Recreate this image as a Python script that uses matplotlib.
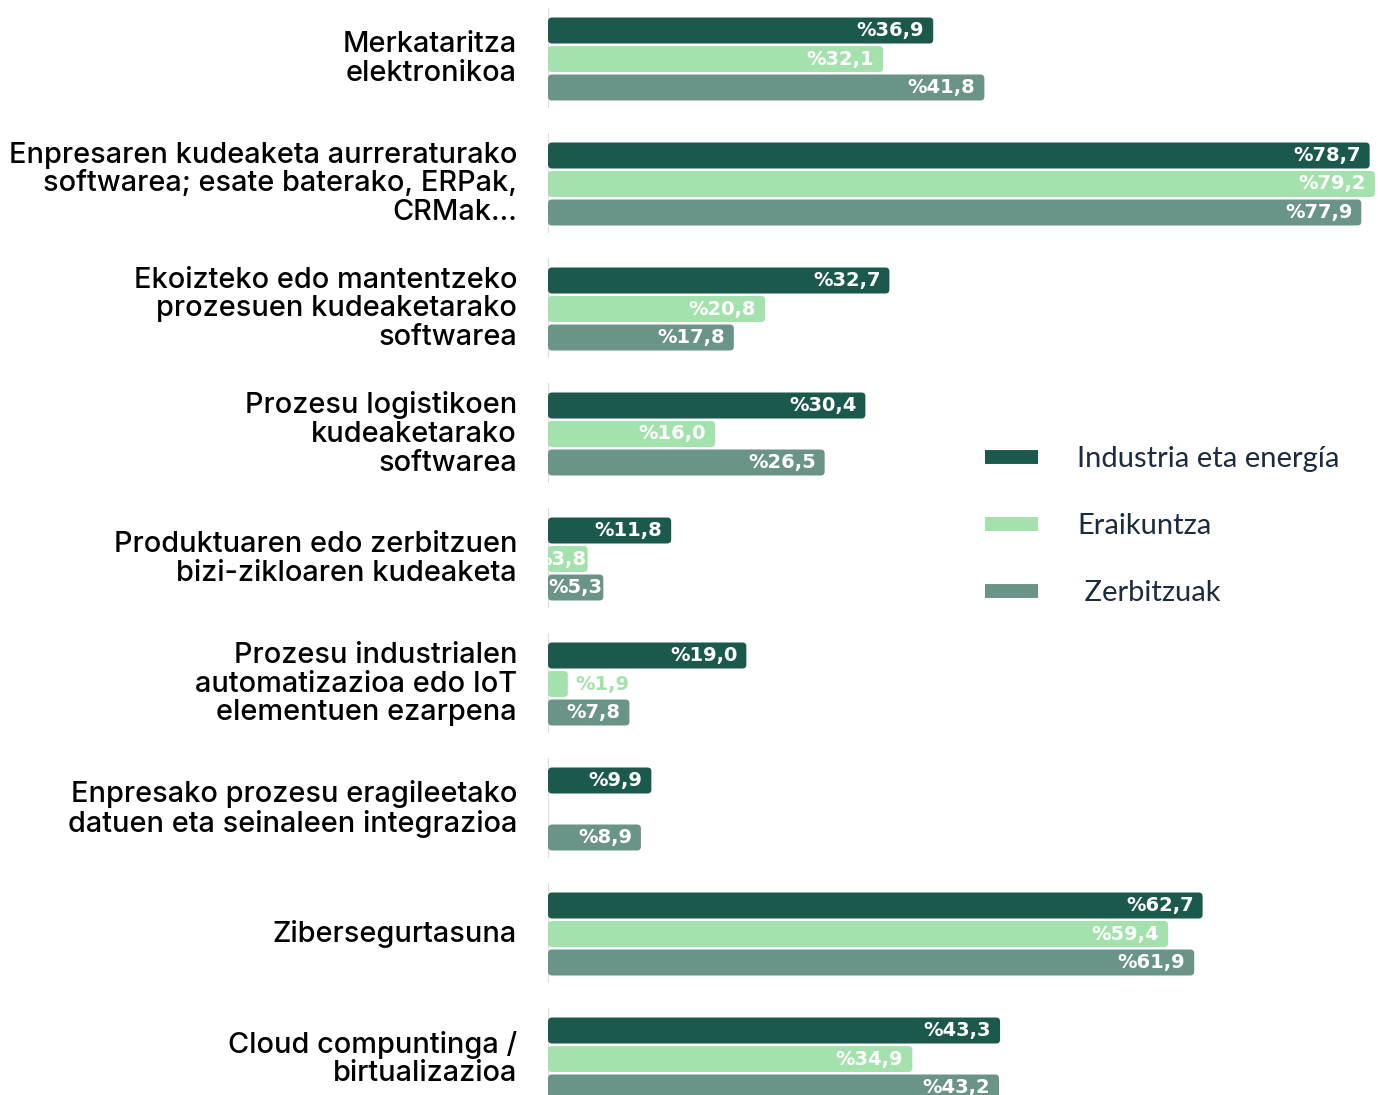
import numpy as np
import matplotlib
matplotlib.use('Agg')
import matplotlib.pyplot as plt
from matplotlib.patches import FancyBboxPatch
from matplotlib.lines import Line2D

categories = [
    'Merkataritza\nelektronikoa',
    'Enpresaren kudeaketa aurreraturako\nsoftwarea; esate baterako, ERPak,\nCRMak...',
    'Ekoizteko edo mantentzeko\nprozesuen kudeaketarako\nsoftwarea',
    'Prozesu logistikoen\nkudeaketarako\nsoftwarea',
    'Produktuaren edo zerbitzuen\nbizi-zikloaren kudeaketa',
    'Prozesu industrialen\nautomatizazioa edo IoT\nelementuen ezarpena',
    'Enpresako prozesu eragileetako\ndatuen eta seinaleen integrazioa',
    'Zibersegurtasuna',
    'Cloud compuntinga /\nbirtualizazioa',
]
industria = [36.9, 78.7, 32.7, 30.4, 11.8, 19.0, 9.9, 62.7, 43.3]
eraikuntza = [32.1, 79.2, 20.8, 16.0, 3.8, 1.9, np.nan, 59.4, 34.9]
zerbitzuak = [41.8, 77.9, 17.8, 26.5, 5.3, 7.8, 8.9, 61.9, 43.2]

series = [
    ('Industria eta energía', industria, '#1b594c'),
    ('Eraikuntza', eraikuntza, '#a4e2ad'),
    (' Zerbitzuak', zerbitzuak, '#6a9488'),
]

fig = plt.figure(figsize=(13.78, 10.95), dpi=100)
ax = fig.add_axes([548 / 1378, 0, 1 - 548 / 1378, 1])
ax.set_xlim(0, 79.5)
ax.set_ylim(8.288, -0.472)
ax.axis('off')

step = 0.228
height = 0.208
y = np.arange(len(categories))

# px -> data conversions
xpp = 79.5 / (1378 - 548)
ypp = 8.76 / 1095

for k, (name, vals, col) in enumerate(series):
    pos = y + (k - 1) * step
    bars = ax.barh(pos, vals, height=height, color=col)
    for rect, v, p in zip(bars, vals, pos):
        rect.set_visible(False)
        if np.isnan(v):
            continue
        r = 4 * xpp
        patch = FancyBboxPatch((rect.get_x(), rect.get_y()), rect.get_width(), rect.get_height(),
                               boxstyle='round,pad=0,rounding_size=%f' % r,
                               mutation_aspect=ypp / xpp, fc=col, ec='none')
        ax.add_patch(patch)
        txt = '%' + ('%.1f' % v).replace('.', ',')
        if v < 3:
            ax.text(v + 8 * xpp, p, txt, ha='left', va='center', color=col,
                    fontsize=14, fontweight='bold', family='DejaVu Sans')
        else:
            pad = 1 if v < 6 else 9
            ax.text(v - pad * xpp, p, txt, ha='right', va='center', color='white',
                    fontsize=14, fontweight='bold', family='DejaVu Sans')

# thin axis line per group
for yi in y:
    ax.plot([0, 0], [yi - 0.4, yi + 0.38], color='#e2d9db', lw=1.5, zorder=0)

for yi, lab in zip(y, categories):
    ax.text(-31 * xpp, yi, lab, ha='right', va='center', fontsize=20.8,
            family='Inter', fontweight='medium', color='black', linespacing=1.08,
            clip_on=False)

handles = [Line2D([], [], color=c, lw=10, solid_capstyle='butt') for _, _, c in series]
fig.legend(handles, [n for n, _, _ in series], loc='upper left',
           bbox_to_anchor=(959 / 1378, 1 - 420 / 1095), frameon=False,
           prop={'family': 'Lato', 'size': 21}, labelcolor='#1d2b3e',
           handlelength=1.8, handletextpad=1.35, labelspacing=1.4)

fig.savefig('out.png', dpi=100)
